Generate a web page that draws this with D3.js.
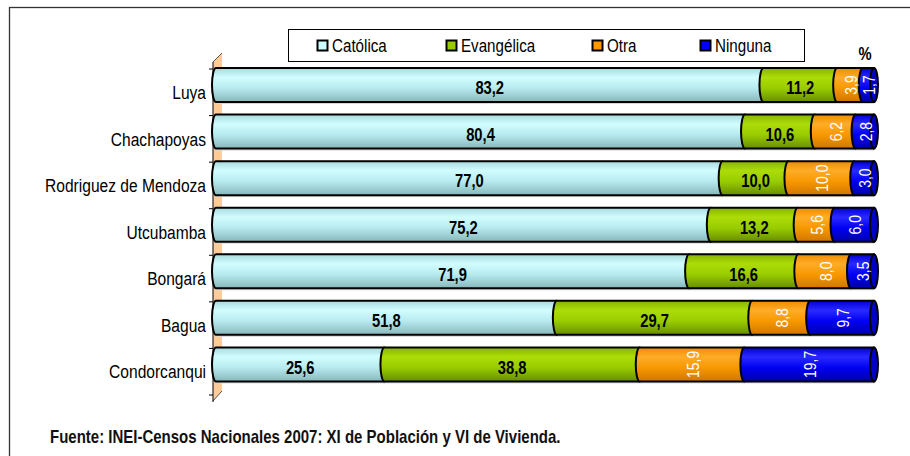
<!DOCTYPE html>
<html>
<head>
<meta charset="utf-8">
<script src="https://cdn.jsdelivr.net/npm/d3@7"></script>
<style>
  body { margin: 0; background: #fff; }
  svg { display: block; }
</style>
</head>
<body>
<div id="chart"></div>
<script>
const categories = ["Luya", "Chachapoyas", "Rodriguez de Mendoza", "Utcubamba", "Bongará", "Bagua", "Condorcanqui"];
const seriesNames = ["Católica", "Evangélica", "Otra", "Ninguna"];
const catolica = [83.2, 80.4, 77.0, 75.2, 71.9, 51.8, 25.6];
const evangelica = [11.2, 10.6, 10.0, 13.2, 16.6, 29.7, 38.8];
const otra = [3.9, 6.2, 10.0, 5.6, 8.0, 8.8, 15.9];
const ninguna = [1.7, 2.8, 3.0, 6.0, 3.5, 9.7, 19.7];
const source = "Fuente: INEI-Censos Nacionales 2007: XI de Población y VI de Vivienda.";

const WIDTH = 910;
const HEIGHT = 456;
const X0 = 216, X1 = 874;
const Y0 = 69, Y1 = 395;
const BAR_H = 34;
const RX = 4;
// Arial Narrow is not available, so Liberation Sans is squeezed horizontally
const FONT = '"Liberation Sans", Arial, sans-serif';
const NARROW = "scale(0.82,1)";

// fill colours: legend swatch, gradient stops (top -> bottom), label colour
const STYLES = [
  { swatch: "#ccffff", stops: ["#a6dadd", "#d2fdff", "#b6eaee", "#86b6ba"], label: "#000" },
  { swatch: "#99cc00", stops: ["#86b400", "#acdc08", "#99cc00", "#678c00"], label: "#000" },
  { swatch: "#ff9900", stops: ["#ee8c00", "#ffac28", "#f79800", "#cf7600"], label: "#fff" },
  { swatch: "#0000ff", stops: ["#0000d8", "#2a2aff", "#0000f2", "#0000aa"], label: "#fff" }
];

const fmt = d3.formatLocale({ decimal: ",", thousands: ".", grouping: [3], currency: ["", ""] }).format(".1f");

const rows = categories.map((c, i) => ({
  name: c, "Católica": catolica[i], "Evangélica": evangelica[i], "Otra": otra[i], "Ninguna": ninguna[i]
}));
const stacked = d3.stack().keys(seriesNames)(rows);

const svg = d3.select("#chart").append("svg").attr("width", WIDTH).attr("height", HEIGHT);

// outer frame (right and bottom sides lie outside the picture)
svg.append("rect").attr("x", 9.5).attr("y", 7.5).attr("width", 1000).attr("height", 1000)
  .attr("fill", "none").attr("stroke", "#333").attr("stroke-width", 1.3);

const defs = svg.append("defs");
STYLES.forEach((s, i) => {
  const g = defs.append("linearGradient").attr("id", "grad" + i)
    .attr("x1", 0).attr("y1", 0).attr("x2", 0).attr("y2", 1);
  [0, 0.28, 0.6, 1].forEach((o, k) => g.append("stop").attr("offset", o).attr("stop-color", s.stops[k]));
});

const xScale = d3.scaleLinear().domain([0, 100]).range([X0, X1]);
const yScale = d3.scaleBand().domain(categories).range([Y0, Y1]).padding(0);

// back wall
const wall = svg.append("g");
wall.append("path")
  .attr("d", `M213,62 L222,53 L222,391 L213,401 Z`)
  .attr("fill", "#ffcc99").attr("stroke", "none");
wall.append("path").attr("d", "M213,62 L222,53").attr("stroke", "#555").attr("stroke-width", 1);
wall.append("path").attr("d", "M213,401 L222,391").attr("stroke", "#555").attr("stroke-width", 1);

// category axis
const yAxis = d3.axisLeft(yScale).tickSize(0).tickPadding(0);
const axisG = svg.append("g").attr("transform", "translate(213,0)").call(yAxis);
axisG.select(".domain").attr("stroke", "#000").attr("d", `M0,${Y0 - 7}V${Y1 + 7}`);
axisG.selectAll("text").attr("x", 0).attr("dy", "0.35em")
  .attr("transform", "translate(-7,0) " + NARROW)
  .attr("font-family", FONT).attr("font-size", 19).attr("fill", "#000");
const boundaries = categories.map(c => yScale(c)).concat([Y1]);
axisG.selectAll(".bnd").data(boundaries).enter().append("line")
  .attr("x1", -4).attr("x2", 0).attr("y1", d => d).attr("y2", d => d)
  .attr("stroke", "#000");

// bars
const barTop = c => yScale(c) - 1;
const segPath = (x0, x1, top) => {
  const bot = top + BAR_H;
  return `M${x0},${top} A${RX},${BAR_H / 2} 0 0 0 ${x0},${bot} L${x1},${bot} L${x1},${top} Z`;
};

const barsG = svg.append("g");
// faint shadow under each bar
barsG.selectAll(".shadow").data(rows).enter().append("rect")
  .attr("x", X0).attr("y", d => barTop(d.name) + BAR_H - 1)
  .attr("width", X1 - X0).attr("height", 3).attr("fill", "#d8d8d8");

stacked.forEach((layer, i) => {
  barsG.selectAll(".seg" + i).data(layer).enter().append("path")
    .attr("d", d => segPath(xScale(d[0]), xScale(d[1]), barTop(d.data.name)))
    .attr("fill", "url(#grad" + i + ")")
    .attr("stroke", "#000").attr("stroke-width", 2).attr("stroke-linejoin", "round");
});
// right-hand cylinder ends
barsG.selectAll(".cap").data(rows).enter().append("ellipse")
  .attr("cx", xScale(100)).attr("cy", d => barTop(d.name) + BAR_H / 2)
  .attr("rx", RX).attr("ry", BAR_H / 2)
  .attr("fill", "#0000c8").attr("stroke", "#000").attr("stroke-width", 2);

// value labels
stacked.forEach((layer, i) => {
  const rotated = i >= 2;
  barsG.selectAll(".lab" + i).data(layer).enter().append("text")
    .attr("transform", d => {
      const cx = (xScale(d[0]) + xScale(d[1])) / 2 + (rotated ? 1 : 0);
      const cy = barTop(d.data.name) + BAR_H / 2 + (rotated ? 0 : 3);
      return rotated ? `translate(${cx},${cy}) rotate(-90) ${NARROW}` : `translate(${cx},${cy}) ${NARROW}`;
    })
    .attr("text-anchor", "middle").attr("dy", "0.35em")
    .attr("font-family", FONT).attr("font-size", rotated ? 17 : 18)
    .attr("font-weight", rotated ? "normal" : "bold")
    .attr("fill", STYLES[i].label)
    .text(d => fmt(d.data[layer.key]));
});

// legend
const legend = svg.append("g");
legend.append("rect").attr("x", 288.5).attr("y", 29.5).attr("width", 516).attr("height", 32)
  .attr("fill", "#fff").attr("stroke", "#000").attr("stroke-width", 1);
const legendX = [317, 446, 592, 700];
seriesNames.forEach((name, i) => {
  legend.append("rect").attr("x", legendX[i] + 0.5).attr("y", 40.5).attr("width", 10).attr("height", 10)
    .attr("fill", STYLES[i].swatch).attr("stroke", "#000").attr("stroke-width", 2);
  legend.append("text").attr("transform", `translate(${legendX[i] + 15},46) ${NARROW}`)
    .attr("dy", "0.35em")
    .attr("font-family", FONT).attr("font-size", 18.5).attr("fill", "#000").text(name);
});

svg.append("text").attr("transform", `translate(865,54) ${NARROW}`).attr("dy", "0.35em")
  .attr("text-anchor", "middle")
  .attr("font-family", FONT).attr("font-size", 18).attr("font-weight", "bold").text("%");

// source note
svg.append("text").attr("transform", `translate(50,437) ${NARROW}`).attr("dy", "0.35em")
  .attr("font-family", FONT).attr("font-size", 18.3).attr("font-weight", "bold").attr("fill", "#111")
  .text(source);
</script>
</body>
</html>
